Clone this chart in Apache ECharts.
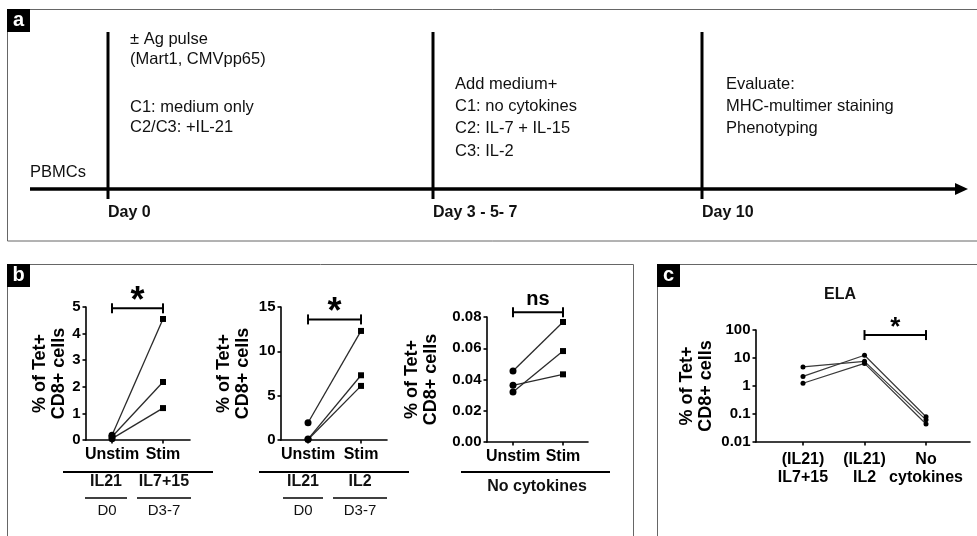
<!DOCTYPE html>
<html><head><meta charset="utf-8">
<script src="https://cdn.jsdelivr.net/npm/echarts@6/dist/echarts.min.js"></script>
<style>html,body{margin:0;padding:0;background:#fff}#c{width:977px;height:536px}</style>
</head><body><div id="c"></div>
<script>
const FONT = "'Liberation Sans', Arial, Helvetica, sans-serif";

// ---- Panel b data ----
const bCategories = ['Unstim', 'Stim'];
const b1Unstim = [0.18, 0.12, 0.05];
const b1Stim = [4.55, 2.18, 1.2];
const b2Unstim = [1.95, 0.1, 0.05];
const b2Stim = [12.3, 7.3, 6.1];
const b3Unstim = [0.0454, 0.032, 0.0363];
const b3Stim = [0.0768, 0.0582, 0.0433];
const b1YTicks = [0, 1, 2, 3, 4, 5];
const b2YTicks = [0, 5, 10, 15];
const b3YTicks = [0, 0.02, 0.04, 0.06, 0.08];
const bSignif = ['*', '*', 'ns'];
const bBracketY = [4.95, 13.6, 0.083];

// ---- Panel c data ----
const cCategories = ['(IL21)\nIL7+15', '(IL21)\nIL2', 'No\ncytokines'];
const cDonor1 = [4.8, 7.6, 0.062];
const cDonor2 = [2.2, 12.5, 0.08];
const cDonor3 = [1.25, 6.4, 0.044];
const cYTicks = [0.01, 0.1, 1, 10, 100];
const cSignif = '*';
const cBracket = [1, 2, 66];

const chart = echarts.init(document.getElementById('c'), null, {renderer: 'canvas'});

const grids = [
  {left: 86, top: 307, width: 104, height: 133},
  {left: 281, top: 307, width: 106, height: 133},
  {left: 487, top: 317, width: 101, height: 125},
  {left: 756, top: 330, width: 214, height: 112}
];
const xRanges = [[-0.51, 1.53], [-0.51, 1.49], [-0.52, 1.5], [-0.764, 2.715]];
const nameGaps = [16, 28, 46, 40];

const axisLine = {show: true, onZero: false, lineStyle: {color: '#000', width: 1.6}};
const axisTick = {show: true, length: 3.5, lineStyle: {color: '#000', width: 1.6}};

const xAxes = [];
const yAxes = [];
const bTicks = [b1YTicks, b2YTicks, b3YTicks];
for (let g = 0; g < 3; g++) {
  const t = bTicks[g];
  xAxes.push({
    type: 'value', gridIndex: g, min: xRanges[g][0], max: xRanges[g][1],
    splitLine: {show: false}, axisLine,
    axisTick: Object.assign({customValues: [0, 1]}, axisTick),
    axisLabel: {customValues: [0, 1], formatter: v => bCategories[Math.round(v)],
      color: '#000', fontFamily: FONT, fontWeight: 'bold', fontSize: 16, margin: 7}
  });
  yAxes.push({
    type: 'value', gridIndex: g, min: t[0], max: t[t.length - 1], interval: t[1] - t[0],
    splitLine: {show: false}, axisLine, axisTick,
    axisLabel: {color: '#000', fontFamily: FONT, fontWeight: 'bold', fontSize: 15, margin: 5.5,
      formatter: v => g === 2 ? v.toFixed(2) : String(Math.round(v))},
    name: '% of Tet+\nCD8+ cells', nameLocation: 'middle', nameRotate: 90, nameGap: nameGaps[g],
    nameTextStyle: {color: '#000', fontFamily: FONT, fontWeight: 'bold', fontSize: 18, lineHeight: 19}
  });
}
xAxes.push({
  type: 'value', gridIndex: 3, min: xRanges[3][0], max: xRanges[3][1],
  splitLine: {show: false}, axisLine,
  axisTick: Object.assign({customValues: [0, 1, 2]}, axisTick),
  axisLabel: {customValues: [0, 1, 2], formatter: v => cCategories[Math.round(v)],
    color: '#000', fontFamily: FONT, fontWeight: 'bold', fontSize: 16, lineHeight: 18, margin: 9}
});
yAxes.push({
  type: 'log', logBase: 10, gridIndex: 3, min: cYTicks[0], max: cYTicks[cYTicks.length - 1],
  splitLine: {show: false}, axisLine, axisTick, minorTick: {show: false},
  axisLabel: {color: '#000', fontFamily: FONT, fontWeight: 'bold', fontSize: 15, margin: 5.5,
    formatter: v => String(+(+v).toPrecision(3))},
  name: '% of Tet+\nCD8+ cells', nameLocation: 'middle', nameRotate: 90, nameGap: nameGaps[3],
  nameTextStyle: {color: '#000', fontFamily: FONT, fontWeight: 'bold', fontSize: 18, lineHeight: 19}
});

const series = [];
const bU = [b1Unstim, b2Unstim, b3Unstim];
const bS = [b1Stim, b2Stim, b3Stim];
for (let g = 0; g < 3; g++) {
  for (let i = 0; i < 3; i++) {
    series.push({
      type: 'line', xAxisIndex: g, yAxisIndex: g, silent: true,
      lineStyle: {color: '#2a2a2a', width: 1.3},
      itemStyle: {color: '#000'},
      data: [
        {value: [0, bU[g][i]], symbol: 'circle', symbolSize: 7},
        {value: [1, bS[g][i]], symbol: 'rect', symbolSize: 6}
      ]
    });
  }
}
[cDonor1, cDonor2, cDonor3].forEach(d => {
  series.push({
    type: 'line', xAxisIndex: 3, yAxisIndex: 3, silent: true,
    symbol: 'circle', symbolSize: 5,
    lineStyle: {color: '#3a3a3a', width: 1.2},
    itemStyle: {color: '#000'},
    data: d.map((v, k) => [k, v])
  });
});

function bracketSeries(g, x0, x1, y, label, starSize, starOff) {
  return {
    type: 'custom', xAxisIndex: g, yAxisIndex: g, silent: true,
    data: [[x0, x1, y]],
    renderItem: (params, api) => {
      const p0 = api.coord([api.value(0), api.value(2)]);
      const p1 = api.coord([api.value(1), api.value(2)]);
      const h = 5;
      const st = {stroke: '#000', lineWidth: 2};
      return {type: 'group', children: [
        {type: 'line', shape: {x1: p0[0], y1: p0[1], x2: p1[0], y2: p1[1]}, style: st},
        {type: 'line', shape: {x1: p0[0], y1: p0[1] - h, x2: p0[0], y2: p0[1] + h}, style: st},
        {type: 'line', shape: {x1: p1[0], y1: p1[1] - h, x2: p1[0], y2: p1[1] + h}, style: st},
        {type: 'text', style: {
          text: label, x: (p0[0] + p1[0]) / 2, y: p0[1] - starOff,
          align: 'center', verticalAlign: 'middle', fill: '#000',
          font: 'bold ' + starSize + 'px ' + FONT
        }}
      ]};
    }
  };
}
for (let g = 0; g < 3; g++) {
  const ns = bSignif[g] === 'ns';
  series.push(bracketSeries(g, 0, 1, bBracketY[g], bSignif[g], ns ? 20 : 36, ns ? 13 : 6));
}
series.push(bracketSeries(3, cBracket[0], cBracket[1], cBracket[2], cSignif, 26, 7));

// ---- Graphic (diagram & annotations) ----
const g = [];
function txt(x, y, text, size, bold, align) {
  g.push({type: 'text', x: x, y: y, silent: true, style: {
    text: text, fill: '#111', align: align || 'left', verticalAlign: 'middle',
    font: (bold ? 'bold ' : '') + size + 'px ' + FONT}});
}
function line(x1, y1, x2, y2, w, c) {
  g.push({type: 'line', silent: true, shape: {x1, y1, x2, y2}, style: {stroke: c || '#000', lineWidth: w}});
}
function panelLabel(x, y, t) {
  g.push({type: 'rect', silent: true, shape: {x: x, y: y, width: 23, height: 23}, style: {fill: '#000'}});
  g.push({type: 'text', silent: true, x: x + 11.5, y: y + 11, style: {text: t, fill: '#fff', align: 'center', verticalAlign: 'middle', font: 'bold 20px ' + FONT}});
}
// borders
g.push({type: 'rect', silent: true, shape: {x: 7.5, y: 9.5, width: 1000, height: 231.5}, style: {fill: 'none', stroke: '#666', lineWidth: 1}});
g.push({type: 'rect', silent: true, shape: {x: 7.5, y: 264.5, width: 626, height: 400}, style: {fill: 'none', stroke: '#666', lineWidth: 1}});
g.push({type: 'rect', silent: true, shape: {x: 657.5, y: 264.5, width: 400, height: 400}, style: {fill: 'none', stroke: '#666', lineWidth: 1}});
panelLabel(7, 9, 'a');
panelLabel(7, 264, 'b');
panelLabel(657, 264, 'c');
// timeline
line(30, 189, 958, 189, 3.5);
g.push({type: 'polygon', silent: true, shape: {points: [[955, 183], [968, 189], [955, 195]]}, style: {fill: '#000'}});
[108, 433, 702].forEach(x => line(x, 32, x, 199, 3));
const A = 16.5;
txt(130, 39, '± Ag pulse', A);
txt(130, 59, '(Mart1, CMVpp65)', A);
txt(130, 107, 'C1: medium only', A);
txt(130, 127, 'C2/C3: +IL-21', A);
txt(30, 172, 'PBMCs', A);
txt(108, 213, 'Day 0', 16, true);
txt(455, 84, 'Add medium+', A);
txt(455, 106, 'C1: no cytokines', A);
txt(455, 128, 'C2: IL-7 + IL-15', A);
txt(455, 151, 'C3: IL-2', A);
txt(433, 213, 'Day 3 - 5- 7', 16, true);
txt(726, 84, 'Evaluate:', A);
txt(726, 106, 'MHC-multimer staining', A);
txt(726, 128, 'Phenotyping', A);
txt(702, 213, 'Day 10', 16, true);
// panel b condition labels
line(63, 472, 213, 472, 2);
line(259, 472, 409, 472, 2);
line(461, 472, 610, 472, 2);
line(85, 498, 127, 498, 1.5);
line(137, 498, 191, 498, 1.5);
line(283, 498, 323, 498, 1.5);
line(333, 498, 387, 498, 1.5);
txt(106, 482, 'IL21', 16, true, 'center');
txt(164, 482, 'IL7+15', 16, true, 'center');
txt(107, 511, 'D0', 15, false, 'center');
txt(164, 511, 'D3-7', 15, false, 'center');
txt(303, 482, 'IL21', 16, true, 'center');
txt(360, 482, 'IL2', 16, true, 'center');
txt(303, 511, 'D0', 15, false, 'center');
txt(360, 511, 'D3-7', 15, false, 'center');
txt(537, 487, 'No cytokines', 16, true, 'center');
txt(840, 295, 'ELA', 16, true, 'center');

chart.setOption({
  animation: false,
  grid: grids,
  xAxis: xAxes,
  yAxis: yAxes,
  series: series,
  graphic: g
});
</script></body></html>
